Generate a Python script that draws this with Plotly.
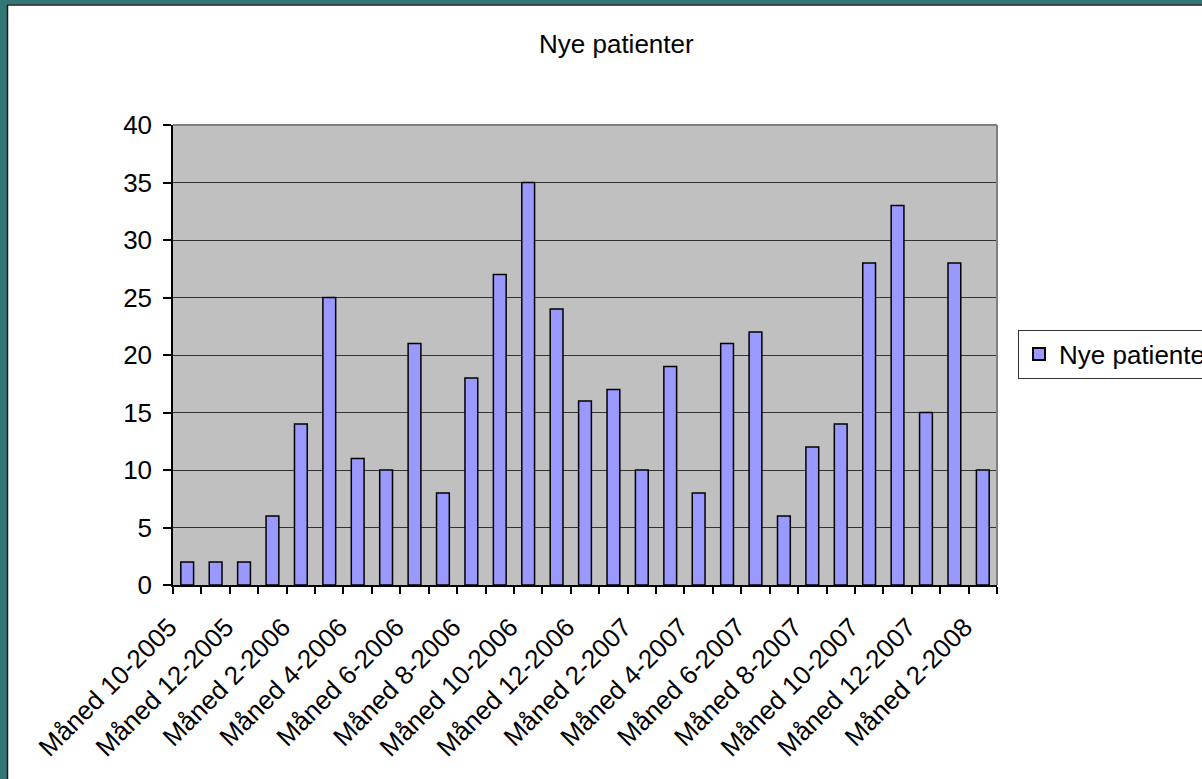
import plotly.graph_objects as go

# ---- data ----
categories = [
    "Måned 10-2005", "Måned 11-2005", "Måned 12-2005",
    "Måned 1-2006", "Måned 2-2006", "Måned 3-2006", "Måned 4-2006", "Måned 5-2006",
    "Måned 6-2006", "Måned 7-2006", "Måned 8-2006", "Måned 9-2006", "Måned 10-2006",
    "Måned 11-2006", "Måned 12-2006",
    "Måned 1-2007", "Måned 2-2007", "Måned 3-2007", "Måned 4-2007", "Måned 5-2007",
    "Måned 6-2007", "Måned 7-2007", "Måned 8-2007", "Måned 9-2007", "Måned 10-2007",
    "Måned 11-2007", "Måned 12-2007",
    "Måned 1-2008", "Måned 2-2008",
]
nye_patienter = [2, 2, 2, 6, 14, 25, 11, 10, 21, 8, 18, 27, 35, 24, 16,
                 17, 10, 19, 8, 21, 22, 6, 12, 14, 28, 33, 15, 28, 10]
series_name = "Nye patienter"
title_text = "Nye patienter"
y_ticks = [0, 5, 10, 15, 20, 25, 30, 35, 40]
tick_labels = [c if i % 2 == 0 else "" for i, c in enumerate(categories)]

# ---- layout geometry (pixels) ----
FW, FH = 1202, 779
L, R, T, B = 173, 997, 125, 585
W, H = R - L, B - T

def px(p):
    return (p - L) / W

def py(p):
    return (B - p) / H

FONT = "Liberation Sans, Arial, sans-serif"
FS = 26
TEAL = "#327676"

fig = go.Figure()
fig.add_trace(go.Bar(
    x=categories, y=nye_patienter, name=series_name,
    marker=dict(color="#9999FF", line=dict(color="#000000", width=1.5)),
    showlegend=True,
))

shapes = [
    # teal frame top / left
    dict(type="rect", xref="paper", yref="paper", x0=px(0), x1=px(FW), y0=py(0), y1=py(4.5),
         fillcolor=TEAL, line=dict(width=0), layer="above"),
    dict(type="rect", xref="paper", yref="paper", x0=px(0), x1=px(7), y0=py(0), y1=py(FH),
         fillcolor=TEAL, line=dict(width=0), layer="above"),
    dict(type="line", xref="paper", yref="paper", x0=px(7), x1=px(FW), y0=py(5), y1=py(5),
         line=dict(color="#1a1a1a", width=1.5), layer="above"),
    dict(type="line", xref="paper", yref="paper", x0=px(7.5), x1=px(7.5), y0=py(5), y1=py(FH),
         line=dict(color="#1a1a1a", width=1.5), layer="above"),
    # plot-area gray border top / right
    dict(type="line", xref="paper", yref="paper", x0=0, x1=1, y0=1, y1=1,
         line=dict(color="#808080", width=2), layer="above"),
    dict(type="line", xref="paper", yref="paper", x0=1, x1=1, y0=0, y1=1,
         line=dict(color="#808080", width=2), layer="above"),
]

fig.update_layout(
    width=FW, height=FH,
    margin=dict(l=L, r=FW - R, t=T, b=FH - B, autoexpand=False),
    paper_bgcolor="white",
    plot_bgcolor="#C0C0C0",
    font=dict(family=FONT, size=FS, color="black"),
    bargap=0.55,
    shapes=shapes,
    annotations=[dict(
        text=title_text, xref="paper", yref="paper",
        x=px(616), y=py(44), xanchor="center", yanchor="middle",
        showarrow=False, font=dict(family=FONT, size=FS, color="black"),
    )],
    legend=dict(
        x=px(1018), y=py(354), xanchor="left", yanchor="middle",
        bgcolor="white", bordercolor="#333333", borderwidth=1,
        font=dict(family=FONT, size=FS, color="black"),
        itemsizing="constant",
    ),
    xaxis=dict(
        type="category",
        tickmode="array", tickvals=categories, ticktext=tick_labels,
        tickson="boundaries",
        ticks="outside", ticklen=7, tickcolor="black", tickwidth=1.5,
        tickangle=-45,
        ticklabelshift=-18, ticklabelstandoff=15,
        showline=True, linecolor="black", linewidth=1.5,
        showgrid=False, zeroline=False,
        tickfont=dict(family=FONT, size=FS, color="black"),
    ),
    yaxis=dict(
        range=[0, 40], tickmode="array", tickvals=y_ticks,
        ticks="outside", ticklen=8, tickcolor="black", tickwidth=1.5,
        showline=True, linecolor="black", linewidth=1.5,
        showgrid=True, gridcolor="#333333", gridwidth=1,
        zeroline=False,
        ticklabelstandoff=6,
        tickfont=dict(family=FONT, size=FS, color="black"),
    ),
)

fig.write_html("out.html", config={"displayModeBar": False},
               post_script="document.body.style.margin='0px';")
